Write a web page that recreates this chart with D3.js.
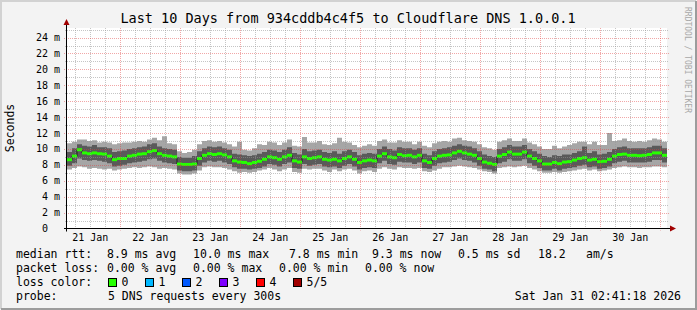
<!DOCTYPE html>
<html>
<head>
<meta charset="utf-8">
<script src="https://cdn.jsdelivr.net/npm/d3@7"></script>
<style>
body { margin: 0; background: #f3f3f3; }
svg { display: block; font-family: "DejaVu Sans Mono", monospace; }
</style>
</head>
<body>
<svg width="697" height="310"></svg>
<script>
var title = "Last 10 Days from 934cddb4c4f5 to Cloudflare DNS 1.0.0.1";
var startTime = "2026-01-21T02:41:18Z";
var endTime = "2026-01-31T02:41:18Z";
var stepHours = 2;

// median rtt in ms, one value per 2h step
var median = [
  8.65, 9.1, 9.9, 9.5, 9.4, 9.5, 9.4, 9.35, 9.1, 8.65,
  8.8, 8.8, 9.1, 9.2, 9.35, 9.4, 9.65, 9.8, 9.4, 9.2,
  9.1, 9.0, 8.1, 8.05, 8.05, 8.1, 8.8, 9.2, 9.4, 9.3,
  9.4, 9.25, 9.0, 8.5, 8.35, 8.3, 8.15, 8.3, 8.45, 8.7,
  9.0, 8.9, 8.7, 9.0, 9.2, 8.5, 8.35, 9.0, 8.8, 8.9,
  9.0, 8.7, 8.6, 8.7, 8.5, 8.8, 9.0, 8.7, 8.3, 8.5,
  8.6, 8.5, 9.1, 9.4, 9.0, 8.9, 9.3, 9.15, 9.2, 9.0,
  9.2, 8.5, 8.3, 8.8, 9.1, 9.2, 9.25, 9.5, 9.7, 9.5,
  9.35, 9.2, 8.8, 8.35, 8.2, 8.05, 9.1, 9.3, 9.6, 9.35,
  9.35, 9.6, 9.1, 8.8, 8.5, 8.1, 8.1, 8.3, 8.15, 8.35,
  8.4, 8.6, 8.8, 8.9, 8.6, 8.7, 8.4, 8.45, 8.7, 9.1,
  9.3, 9.35, 9.2, 9.2, 9.15, 9.2, 9.3, 9.5, 9.5, 9.2
];
// smoke: slowest ping
var pingMax = [
  10.7, 10.9, 11.2, 11.2, 11.0, 11.1, 10.8, 10.9, 10.8, 10.6,
  10.7, 10.8, 10.8, 10.9, 11.0, 10.9, 11.2, 11.4, 11.1, 11.6,
  10.7, 10.6, 9.7, 9.5, 9.6, 9.9, 10.6, 11.0, 11.1, 10.9,
  11.0, 10.8, 10.6, 10.3, 10.9, 9.9, 9.8, 10.1, 10.6, 10.5,
  10.9, 10.8, 10.5, 10.8, 11.2, 10.4, 10.3, 11.5, 10.8, 10.8,
  11.0, 10.6, 10.5, 10.7, 11.4, 10.9, 10.8, 10.5, 10.2, 10.4,
  10.6, 10.4, 11.0, 11.2, 10.8, 10.8, 11.1, 10.9, 10.9, 10.6,
  10.9, 10.4, 10.2, 10.7, 10.9, 11.0, 10.9, 11.3, 11.4, 11.1,
  11.0, 10.9, 10.6, 10.2, 10.1, 9.9, 10.9, 11.1, 11.3, 11.0,
  11.0, 11.3, 10.8, 10.6, 10.3, 10.0, 10.0, 10.4, 10.1, 10.3,
  10.5, 10.7, 10.9, 10.9, 10.6, 10.9, 10.5, 10.5, 12.0, 11.0,
  11.1, 11.3, 11.0, 10.9, 11.0, 10.9, 11.1, 11.3, 11.2, 10.9
];
// smoke: 4th of 5 pings
var pingHi = [
  9.6, 10.1, 10.6, 10.4, 10.3, 10.5, 10.2, 10.2, 10.1, 9.6,
  9.7, 9.8, 10.0, 10.1, 10.2, 10.3, 10.6, 10.7, 10.3, 10.1,
  10.0, 9.9, 9.0, 8.9, 8.9, 9.1, 9.7, 10.1, 10.3, 10.2,
  10.3, 10.1, 9.9, 9.4, 9.3, 9.2, 9.1, 9.2, 9.4, 9.6,
  9.9, 9.8, 9.6, 9.9, 10.2, 9.5, 9.3, 10.0, 9.7, 9.8,
  9.9, 9.6, 9.5, 9.7, 9.4, 9.7, 9.9, 9.6, 9.2, 9.4,
  9.5, 9.4, 10.0, 10.3, 10.0, 9.8, 10.2, 10.1, 10.1, 9.9,
  10.1, 9.4, 9.2, 9.7, 10.0, 10.1, 10.2, 10.4, 10.6, 10.4,
  10.3, 10.1, 9.7, 9.3, 9.1, 9.0, 10.0, 10.2, 10.5, 10.3,
  10.3, 10.5, 10.0, 9.7, 9.4, 9.1, 9.0, 9.2, 9.1, 9.3,
  9.3, 9.5, 9.7, 10.3, 9.5, 9.7, 9.3, 9.4, 9.6, 10.0,
  10.2, 10.3, 10.1, 10.1, 10.1, 10.1, 10.2, 10.4, 10.4, 10.1
];
// smoke: 2nd of 5 pings
var pingLo = [
  7.9, 8.2, 8.8, 8.6, 8.5, 8.6, 8.5, 8.4, 8.2, 7.8,
  7.9, 8.0, 8.2, 8.3, 8.4, 8.5, 8.7, 8.8, 8.5, 8.3,
  8.2, 8.1, 7.3, 7.2, 7.2, 7.3, 7.9, 8.3, 8.5, 8.4,
  8.5, 8.3, 8.1, 7.7, 7.5, 7.5, 7.4, 7.5, 7.6, 7.8,
  8.1, 8.0, 7.8, 8.1, 8.3, 7.6, 7.5, 8.1, 7.9, 8.0,
  8.1, 7.8, 7.7, 7.8, 7.6, 7.9, 8.1, 7.8, 7.4, 7.6,
  7.7, 7.6, 8.2, 8.5, 8.1, 8.0, 8.4, 8.3, 8.3, 8.1,
  8.3, 7.6, 7.5, 7.9, 8.2, 8.3, 8.4, 8.6, 8.8, 8.6,
  8.5, 8.3, 7.9, 7.5, 7.4, 7.2, 8.2, 8.4, 8.7, 8.5,
  8.5, 8.7, 8.2, 7.9, 7.6, 7.3, 7.3, 7.5, 7.3, 7.5,
  7.6, 7.7, 7.9, 8.0, 7.7, 7.8, 7.5, 7.6, 7.8, 8.2,
  8.4, 8.5, 8.3, 8.3, 8.3, 8.3, 8.4, 8.6, 8.6, 8.3
];
// smoke: fastest ping
var pingMin = [
  7.4, 7.6, 7.8, 7.7, 7.5, 7.6, 7.5, 7.4, 7.5, 7.3,
  7.4, 7.5, 7.6, 7.7, 7.6, 7.7, 7.8, 7.7, 7.5, 7.6,
  7.5, 7.4, 6.9, 6.8, 6.8, 6.9, 7.3, 7.7, 7.8, 7.7,
  7.7, 7.6, 7.4, 7.2, 7.0, 7.1, 7.0, 7.1, 7.3, 7.4,
  7.6, 7.4, 7.2, 7.4, 7.6, 7.1, 7.0, 7.5, 7.4, 7.5,
  7.5, 7.3, 7.1, 7.4, 7.2, 7.4, 7.5, 7.3, 6.9, 7.2,
  7.3, 7.1, 7.5, 7.7, 7.5, 7.4, 7.7, 7.6, 7.6, 7.5,
  7.6, 7.2, 7.1, 7.3, 7.5, 7.7, 7.7, 7.8, 7.9, 7.8,
  7.7, 7.6, 7.4, 7.2, 7.1, 6.9, 7.6, 7.7, 7.8, 7.7,
  7.8, 7.9, 7.6, 7.4, 7.2, 7.0, 7.0, 7.1, 7.0, 7.1,
  7.2, 7.3, 7.4, 7.5, 7.3, 7.4, 7.2, 7.3, 7.4, 7.6,
  7.7, 7.8, 7.7, 7.7, 7.6, 7.7, 7.7, 7.8, 7.8, 7.7
];

var yTicks = [0, 2, 4, 6, 8, 10, 12, 14, 16, 18, 20, 22, 24];
var yMinor = [1, 3, 5, 7, 9, 11, 13, 15, 17, 19, 21, 23, 25];
var yMax = 25.2;

var lossLabels = ["0", "1", "2", "3", "4", "5/5"];
var lossColors = ["#26ff00", "#00b8ff", "#0059ff", "#7e00ff", "#ff0000", "#a10000"];

var rttLegend = ["median rtt:", "8.9 ms avg", "10.0 ms max", "7.8 ms min", "9.3 ms now", "0.5 ms sd", "18.2", "am/s"];
var lossLegend = ["packet loss:", "0.00 % avg", "0.00 % max", "0.00 % min", "0.00 % now"];
var probeLegend = ["probe:", "5 DNS requests every 300s"];
var stamp = "Sat Jan 31 02:41:18 2026";

var svg = d3.select("svg");
var W = 697, H = 310;
var plotLeft = 67, plotRight = 667, plotTop = 28, plotBottom = 228.5;

var start = new Date(startTime), end = new Date(endTime);
var x = d3.scaleUtc().domain([start, end]).range([plotLeft, plotRight]);
var y = d3.scaleLinear().domain([0, yMax]).range([plotBottom, plotTop]);

// frame
svg.append("rect").attr("width", W).attr("height", H).attr("fill", "#f3f3f3");
svg.append("path").attr("d", "M1,309V1H696").attr("fill", "none").attr("stroke", "#d2d2d2").attr("stroke-width", 2);
svg.append("path").attr("d", "M1,309H696V1").attr("fill", "none").attr("stroke", "#9c9c9c").attr("stroke-width", 2);
svg.append("rect").attr("x", plotLeft).attr("y", plotTop).attr("width", plotRight - plotLeft)
    .attr("height", plotBottom - plotTop).attr("fill", "#ffffff");

var points = median.map(function(m, i) {
    return {t: d3.utcHour.offset(start, i * stepHours), med: m,
        min: pingMin[i], lo: pingLo[i], hi: pingHi[i], max: pingMax[i]};
});
var last = points[points.length - 1];
var stepped = points.concat([Object.assign({}, last, {t: end})]);

// SMOKE
var outer = d3.area().curve(d3.curveStepAfter)
    .x(function(d) { return x(d.t); })
    .y0(function(d) { return y(d.min); })
    .y1(function(d) { return y(d.max); });
var inner = d3.area().curve(d3.curveStepAfter)
    .x(function(d) { return x(d.t); })
    .y0(function(d) { return y(d.lo); })
    .y1(function(d) { return y(d.hi); });
svg.append("path").attr("d", outer(stepped)).attr("fill", "#a6a6a6");
svg.append("path").attr("d", inner(stepped)).attr("fill", "#5a5a5a");

// MEDIAN
var medLine = d3.line().curve(d3.curveStepAfter)
    .x(function(d) { return x(d.t); })
    .y(function(d) { return y(d.med); });
svg.append("path").attr("d", medLine(stepped)).attr("fill", "none").attr("stroke", "#202020").attr("stroke-width", 1);
svg.selectAll(".med")
    .data(points)
    .enter()
    .append("rect")
    .attr("x", function(d) { return x(d.t); })
    .attr("width", function(d) { return x(d3.utcHour.offset(d.t, stepHours)) - x(d.t); })
    .attr("y", function(d) { return y(d.med) - 1.5; })
    .attr("height", 3)
    .attr("fill", lossColors[0]);

// GRID (drawn over the graph like rrdtool)
var grid = svg.append("g").attr("fill", "none").attr("stroke-dasharray", "1,1");
var minorColor = "rgba(150,150,150,0.55)", majorColor = "rgba(225,60,60,0.45)";
d3.utcHour.every(6).range(start, end).forEach(function(t) {
    if (t.getUTCHours() === 0) return;
    var px = Math.round(x(t)) + 0.5;
    grid.append("line").attr("x1", px).attr("x2", px).attr("y1", plotTop).attr("y2", plotBottom).attr("stroke", minorColor);
});
d3.utcDay.range(start, end).forEach(function(t) {
    var px = Math.round(x(t)) + 0.5;
    grid.append("line").attr("x1", px).attr("x2", px).attr("y1", plotTop).attr("y2", plotBottom + 2).attr("stroke", majorColor);
});
yMinor.forEach(function(v) {
    var py = Math.round(y(v)) + 0.5;
    grid.append("line").attr("x1", plotLeft - 2).attr("x2", plotRight + 2).attr("y1", py).attr("y2", py).attr("stroke", minorColor);
});
yTicks.slice(1).forEach(function(v) {
    var py = Math.round(y(v)) + 0.5;
    grid.append("line").attr("x1", plotLeft - 3).attr("x2", plotRight + 2).attr("y1", py).attr("y2", py).attr("stroke", majorColor);
});

// AXES
var axisCol = "#000000", arrowCol = "#a10000";
svg.append("line").attr("x1", plotLeft - 3).attr("x2", plotRight + 4).attr("y1", plotBottom).attr("y2", plotBottom).attr("stroke", axisCol);
svg.append("line").attr("x1", plotLeft - 0.5).attr("x2", plotLeft - 0.5).attr("y1", plotBottom + 3).attr("y2", plotTop - 4).attr("stroke", axisCol);
svg.append("path").attr("d", "M" + (plotRight + 3) + "," + (plotBottom - 3) + "l6,3l-6,3z").attr("fill", arrowCol);
svg.append("path").attr("d", "M" + (plotLeft - 3.5) + "," + (plotTop - 3) + "l3,-6l3,6z").attr("fill", arrowCol);

// Y LABELS
var cw = 10 * 0.602;
svg.selectAll(".ylab")
    .data(yTicks)
    .enter()
    .append("text")
    .attr("x", function(d) { return d === 0 ? 60 - 2 * cw : 60; })
    .attr("y", function(d) { return y(d) + 3.5; })
    .attr("text-anchor", "end")
    .attr("font-size", 10)
    .attr("fill", "#000")
    .text(function(d) { return d === 0 ? "0" : d + " m"; });

// X LABELS at noon
var dayFmt = d3.utcFormat("%d %b");
svg.selectAll(".xlab")
    .data(d3.utcDay.range(d3.utcDay.floor(start), end).map(function(t) { return d3.utcHour.offset(t, 12); })
        .filter(function(t) { return t > start && t < end; }))
    .enter()
    .append("text")
    .attr("x", function(d) { return x(d); })
    .attr("y", 241)
    .attr("text-anchor", "middle")
    .attr("font-size", 10)
    .text(function(d) { return dayFmt(d); });

// TITLE, Y TITLE, WATERMARK
svg.append("text").attr("x", 348).attr("y", 23).attr("text-anchor", "middle").attr("font-size", 13.5).text(title);
svg.append("text").attr("transform", "translate(14,128) rotate(-90)").attr("text-anchor", "middle").attr("font-size", 11.5).text("Seconds");
svg.append("text").attr("transform", "translate(685,60) rotate(90)").attr("text-anchor", "middle")
    .attr("font-size", 8).attr("fill", "#a8a8a8").text("RRDTOOL / TOBI OETIKER");

// LEGEND
var legend = svg.append("g").attr("font-size", 11.5).attr("fill", "#000");
var rttX = [16, 107, 193, 289, 372, 458, 538, 586];
var lossX = [16, 107, 193, 279, 365];
rttLegend.forEach(function(s, i) { legend.append("text").attr("x", rttX[i]).attr("y", 258).text(s); });
lossLegend.forEach(function(s, i) { legend.append("text").attr("x", lossX[i]).attr("y", 272).text(s); });
legend.append("text").attr("x", 16).attr("y", 286).text("loss color:");
var boxX = [108.5, 145.5, 182.5, 219.5, 256.5, 293.5];
lossLabels.forEach(function(s, i) {
    legend.append("rect").attr("x", boxX[i]).attr("y", 278.5).attr("width", 8).attr("height", 8)
        .attr("fill", lossColors[i]).attr("stroke", "#000").attr("stroke-width", 1);
    legend.append("text").attr("x", boxX[i] + 13).attr("y", 286).text(s);
});
legend.append("text").attr("x", 16).attr("y", 300).text(probeLegend[0]);
legend.append("text").attr("x", 108).attr("y", 300).text(probeLegend[1]);
legend.append("text").attr("x", 681).attr("y", 300).attr("text-anchor", "end").text(stamp);
</script>
</body>
</html>
